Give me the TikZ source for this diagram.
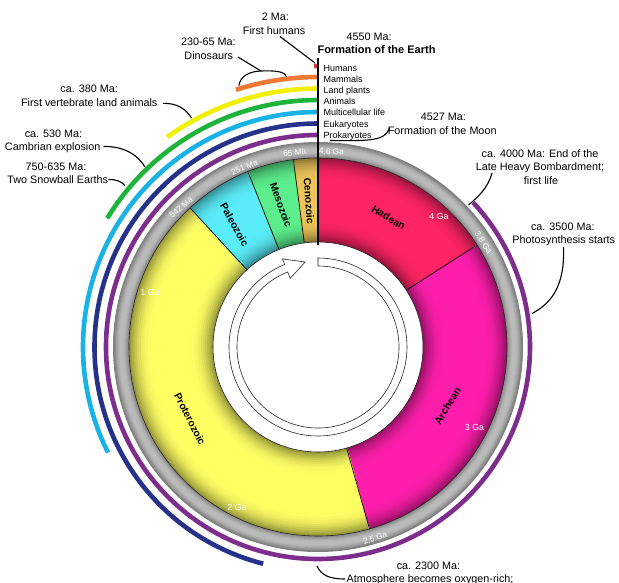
\documentclass[tikz,border=0pt]{standalone}
\usepackage{fontspec}
\setmainfont{Liberation Sans}
\definecolor{hadean}{RGB}{255,36,100}
\definecolor{archean}{RGB}{255,30,172}
\definecolor{proterozoic}{RGB}{255,255,100}
\definecolor{paleozoic}{RGB}{90,236,248}
\definecolor{mesozoic}{RGB}{92,238,140}
\definecolor{cenozoic}{RGB}{236,196,90}
\definecolor{prok}{RGB}{125,45,140}
\definecolor{euk}{RGB}{36,50,138}
\definecolor{multi}{RGB}{25,178,230}
\definecolor{anim}{RGB}{30,180,60}
\definecolor{plant}{RGB}{240,240,0}
\definecolor{mamm}{RGB}{240,120,50}
\definecolor{humred}{RGB}{210,60,60}
\newcommand\geosector[3]{%
  \foreach \w/\m in {84/60,80/67,76/73,72/79,68/84,64/88,60/92,56/95,52/97,46/99,40/100}{%
    \draw[line width=\w pt, #3!\m!black] (#1:147pt) arc[start angle=#1, end angle=#2, radius=147pt];}}
\tikzset{
  lbl/.style={font=\fontsize{10.8}{13}\selectfont, anchor=base, inner sep=0pt},
  life/.style={font=\fontsize{9}{11}\selectfont, anchor=base west, inner sep=0pt},
  tick/.style={font=\fontsize{8.3}{9}\selectfont, text=white, inner sep=0pt},
  era/.style={font=\bfseries\fontsize{10.3}{12}\selectfont, inner sep=0pt},
  leader/.style={draw=black, line width=1.1pt},
  lifearc/.style={line width=4.6pt},
  bound/.style={line width=0.7pt, black},
}
\begin{document}
\begin{tikzpicture}[x=1pt,y=-1pt]
\useasboundingbox (0,0) rectangle (619,582);
\fill[white] (0,0) rectangle (619,582);

\begin{scope}[shift={(318,347)}]
  % gray time ring
  \foreach \w/\m in {16/50,14/45,12/40,10/36,8/32,6/29,4/27}{%
    \draw[line width=\w pt, black!\m] (0,0) circle[radius=196.5pt];}
  \draw[line width=1pt, black!50] (0,0) circle[radius=204.5pt];
  % era sectors
  \geosector{32.7}{90}{hadean}
  \geosector{-74.2}{32.7}{archean}
  \geosector{132.6}{285.8}{proterozoic}
  \geosector{111.8}{132.6}{paleozoic}
  \geosector{97.5}{111.8}{mesozoic}
  \geosector{90}{97.5}{cenozoic}
  \foreach \a in {32.7,-74.2,132.6,111.8,97.5}{\draw[bound] (\a:105pt) -- (\a:189pt);}
  \draw[line width=0.6pt, black!85] (0,0) circle[radius=105pt] (0,0) circle[radius=189pt];
  % inner arrow
  \draw[fill=white, draw=black!85, line width=0.6pt]
    (90:89pt) arc[start angle=90, end angle=-248, radius=89pt]
    -- (-248:95pt) -- (-261.4:86pt) -- (-248:74pt) -- (-248:81pt)
    arc[start angle=-248, end angle=90, radius=81pt] -- cycle;
  % life arcs
  \draw[lifearc, prok] (90:212pt) arc[start angle=90, end angle=403, radius=212pt];
  \draw[lifearc, euk] (90:223.5pt) arc[start angle=90, end angle=255.8, radius=223.5pt];
  \draw[lifearc, multi] (90:235pt) arc[start angle=90, end angle=206.7, radius=235pt];
  \draw[lifearc, anim] (90:247pt) arc[start angle=90, end angle=148.6, radius=247pt];
  \draw[lifearc, plant] (90:258.5pt) arc[start angle=90, end angle=125.7, radius=258.5pt];
  \draw[lifearc, mamm] (90:270pt) arc[start angle=90, end angle=107.7, radius=270pt];
  \draw[lifearc, humred] (90:281pt) arc[start angle=90, end angle=90.8, radius=281pt];
\end{scope}

% formation of the Earth line
\coordinate (earthTop) at (318,58);
\coordinate (earthBot) at (318,245);
\draw[line width=2pt] (earthTop) -- (earthBot);

% tick labels on the gray ring
\node[tick, rotate=-3] (k46) at (331.5,151.7) {4.6 Ga};
\node[tick, rotate=7] (k65) at (294.7,152.5) {65 Ma};
\node[tick, rotate=21] (k251) at (244.5,167.5) {251 Ma};
\node[tick, rotate=40] (k542) at (181,207.5) {542 Ma};
\node[tick, rotate=-57] (k38) at (483.5,242.5) {3.8 Ga};
\node[tick, rotate=20] (k25) at (375,538) {2.5 Ga};
% labels inside the coloured ring
\node[tick, font=\fontsize{8.8}{10}\selectfont] (g4) at (439,216) {4 Ga};
\node[tick, font=\fontsize{8.8}{10}\selectfont] (g3) at (474.5,427) {3 Ga};
\node[tick, font=\fontsize{8.8}{10}\selectfont] (g2) at (237,507) {2 Ga};
\node[tick, font=\fontsize{8.8}{10}\selectfont] (g1) at (150,292) {1 Ga};
% era names
\node[era, rotate=-31] (eHad) at (388.7,217.5) {Hadean};
\node[era, rotate=59] (eArc) at (447.5,406) {Archean};
\node[era, rotate=-63] (ePro) at (190,419) {Proterozoic};
\node[era, rotate=-61] (ePal) at (234.5,224.5) {Paleozoic};
\node[era, rotate=-70] (eMes) at (281,205) {Mesozoic};
\node[era, rotate=-86] (eCen) at (309,201) {Cenozoic};

% life labels
\node[life] (lHum) at (323.5,71) {Humans};
\node[life] (lMam) at (323.5,82.2) {Mammals};
\node[life] (lPla) at (323.5,93.4) {Land plants};
\node[life] (lAni) at (323.5,104.6) {Animals};
\node[life] (lMul) at (323.5,115.8) {Multicellular life};
\node[life] (lEuk) at (323.5,127) {Eukaryotes};
\node[life] (lPro) at (323.5,138.2) {Prokaryotes};

% event labels
\node[lbl] (t2mA) at (275.5,20.7) {2 Ma:};
\node[lbl] (t2mB) at (274.2,34.7) {First humans};
\node[lbl] (tDinA) at (208.4,45.7) {230-65 Ma:};
\node[lbl] (tDinB) at (208.8,59.3) {Dinosaurs};
\node[lbl] (tEarA) at (369.2,40) {4550 Ma:};
\node[lbl, font=\bfseries\fontsize{11}{13}\selectfont] (tEarB) at (376.5,53.3) {Formation of the Earth};
\node[lbl] (tMooA) at (443.3,120.5) {4527 Ma:};
\node[lbl] (tMooB) at (442.2,134.5) {Formation of the Moon};
\node[lbl] (tLhbA) at (540,157.3) {ca. 4000 Ma: End of the};
\node[lbl] (tLhbB) at (540,170.7) {Late Heavy Bombardment;};
\node[lbl] (tLhbC) at (541,184) {first life};
\node[lbl] (tPhoA) at (562.8,230.7) {ca. 3500 Ma:};
\node[lbl] (tPhoB) at (563.8,243.8) {Photosynthesis starts};
\node[lbl] (tOxyA) at (428.5,569.7) {ca. 2300 Ma:};
\node[lbl] (tOxyB) at (430,582.7) {Atmosphere becomes oxygen-rich;};
\node[lbl] (tVerA) at (89.2,92.6) {ca. 380 Ma:};
\node[lbl] (tVerB) at (89.2,106.5) {First vertebrate land animals};
\node[lbl] (tCamA) at (53.5,137.3) {ca. 530 Ma:};
\node[lbl] (tCamB) at (52.7,150.3) {Cambrian explosion};
\node[lbl] (tSnoA) at (56,170.7) {750-635 Ma:};
\node[lbl] (tSnoB) at (57.7,183.5) {Two Snowball Earths};

% leader lines
\coordinate (hA) at (280,36.5); \coordinate (hB) at (315,63);
\draw[leader] (hA) -- (hB);
\coordinate (dA) at (238,57); \coordinate (dTop) at (261,71);
\coordinate (dL) at (239,85.5); \coordinate (dR) at (286.5,77);
\draw[leader] (dA) -- (dTop);
\draw[leader] (dL) .. controls (240,76) and (250,71.3) .. (dTop) .. controls (274,70.5) and (285,71) .. (dR);
\coordinate (vA) at (163,103.3); \coordinate (vB) at (191.5,118);
\draw[leader] (vA) .. controls (177,103) and (186,109) .. (vB);
\coordinate (cA) at (103.5,146.5); \coordinate (cB) at (145,167);
\draw[leader] (cA) .. controls (124,146) and (138,155) .. (cB);
\coordinate (sA) at (108.5,179.5); \coordinate (sB) at (125,185.5);
\draw[leader] (sA) .. controls (116,179.5) and (121,181) .. (sB);
\coordinate (mA) at (330,140.5); \coordinate (mB) at (389.5,128);
\draw[leader] (mA) .. controls (370,141) and (385,141) .. (mB);
\coordinate (lA) at (492,173); \coordinate (lB) at (468.5,205);
\draw[leader] (lA) .. controls (488,188) and (478,197) .. (lB);
\coordinate (pA) at (563.5,247); \coordinate (pB) at (532,313.5);
\draw[leader] (pA) .. controls (565,285) and (552,303) .. (pB);
\coordinate (oA) at (317,566); \coordinate (oB) at (345,579);
\draw[leader] (oA) .. controls (321,575) and (329,579) .. (oB);
\end{tikzpicture}
\end{document}
